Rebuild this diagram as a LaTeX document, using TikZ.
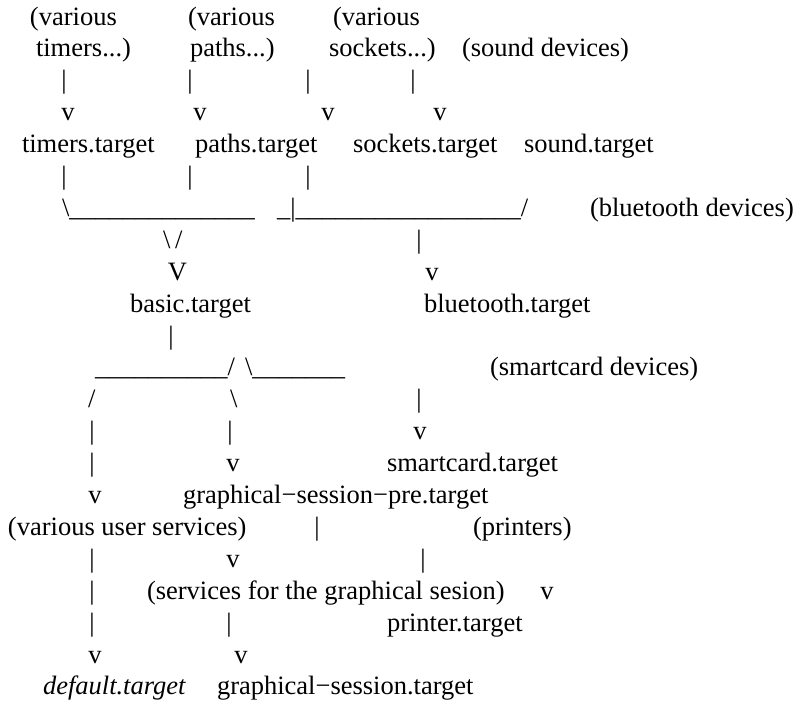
\documentclass[tikz,border=0pt]{standalone}
\usepackage{fontspec}
\setmainfont{Liberation Serif}

\tikzset{
  lbl/.style={anchor=base west, inner sep=0pt, outer sep=0pt, font=\fontsize{26.5}{32}\selectfont},
  sym/.style={lbl, anchor=base},
}

\begin{document}
\begin{tikzpicture}[x=1pt, y=-31.9pt]
\useasboundingbox (0pt,-6.9pt) rectangle (793pt,-710.9pt);

% sources on top
\node[lbl] (timersa)  at (30,1)  {(various};
\node[lbl] (pathsa)   at (188,1) {(various};
\node[lbl] (socketsa) at (333,1) {(various};
\node[lbl] (timersb)  at (36,2)  {timers...)};
\node[lbl] (pathsb)   at (190,2) {paths...)};
\node[lbl] (socketsb) at (329,2) {sockets...)};
\node[lbl] (soundsrc) at (462,2) {(sound devices)};

\node[sym] (bar3a) at (64,3)  {|};
\node[sym] (bar3b) at (190,3) {|};
\node[sym] (bar3c) at (308,3) {|};
\node[sym] (bar3d) at (413,3) {|};
\node[sym] (v4a) at (68,4)  {v};
\node[sym] (v4b) at (200,4) {v};
\node[sym] (v4c) at (328,4) {v};
\node[sym] (v4d) at (440,4) {v};

% first targets
\node[lbl] (timers)  at (22,5)  {timers.target};
\node[lbl] (paths)   at (195,5) {paths.target};
\node[lbl] (sockets) at (353,5) {sockets.target};
\node[lbl] (sound)   at (524,5) {sound.target};

\node[sym] (bar6a) at (64,6)  {|};
\node[sym] (bar6b) at (190,6) {|};
\node[sym] (bar6c) at (308,6) {|};

\node[lbl] (join7a) at (62,7)  {\textbackslash\_\_\_\_\_\_\_\_\_\_\_\_\_\_};
\node[lbl] (join7b) at (277,7) {\_|\_\_\_\_\_\_\_\_\_\_\_\_\_\_\_\_\_/};
\node[lbl] (btsrc)  at (590,7) {(bluetooth devices)};

\node[lbl] (bs8)   at (163,8) {\textbackslash};
\node[lbl] (sl8)   at (175,8) {/};
\node[sym] (bar8)  at (419,8) {|};
\node[sym] (bigv9) at (177.5,9) {V};
\node[sym] (v9)    at (432,9) {v};

\node[lbl] (basic)     at (130,10) {basic.target};
\node[lbl] (bluetooth) at (424,10) {bluetooth.target};

\node[sym] (bar11) at (171,11) {|};

% split below basic.target
\node[lbl] (split12a) at (95,12)  {\_\_\_\_\_\_\_\_\_\_/};
\node[lbl] (split12b) at (245,12) {\textbackslash\_\_\_\_\_\_\_};
\node[lbl] (scsrc)    at (490,12) {(smartcard devices)};

\node[lbl] (sl13)  at (88,13)  {/};
\node[lbl] (bs13)  at (230,13) {\textbackslash};
\node[sym] (bar13) at (419,13) {|};
\node[sym] (bar14a) at (92,14)  {|};
\node[sym] (bar14b) at (230,14) {|};
\node[sym] (v14)    at (420,14) {v};
\node[sym] (bar15) at (92,15)  {|};
\node[sym] (v15)   at (233,15) {v};
\node[lbl] (smartcard) at (387,15) {smartcard.target};

\node[sym] (v16) at (95,16) {v};
\node[lbl] (gspre) at (183,16) {graphical−session−pre.target};

\node[lbl] (usersvc)  at (8,17)   {(various user services)};
\node[sym] (bar17)    at (317,17) {|};
\node[lbl] (printsrc) at (473,17) {(printers)};

\node[sym] (bar18a) at (92,18)  {|};
\node[sym] (v18)    at (233,18) {v};
\node[sym] (bar18b) at (423,18) {|};
\node[sym] (bar19)  at (92,19)  {|};
\node[lbl] (gssvc)  at (147,19) {(services for the graphical sesion)};
\node[sym] (v19)    at (547,19) {v};
\node[sym] (bar20a) at (92,20)  {|};
\node[sym] (bar20b) at (229,20) {|};
\node[lbl] (printer) at (387,20) {printer.target};
\node[sym] (v21a) at (95,21)  {v};
\node[sym] (v21b) at (241,21) {v};

% final targets
\node[lbl, font=\fontsize{26.5}{32}\selectfont\itshape] (default) at (43,22) {default.target};
\node[lbl] (gs) at (217,22) {graphical−session.target};

\end{tikzpicture}
\end{document}
